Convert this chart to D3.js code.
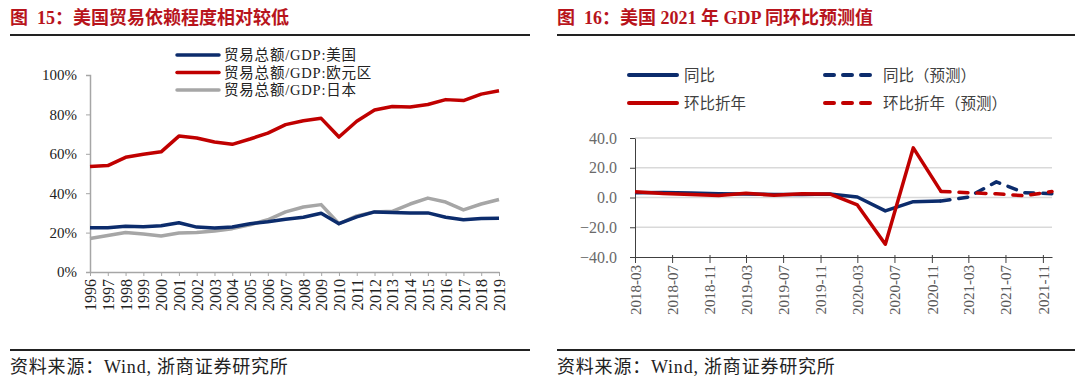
<!DOCTYPE html>
<html>
<head>
<meta charset="utf-8">
<script src="https://cdn.jsdelivr.net/npm/d3@7"></script>
<style>
  body { margin: 0; background: #fff; }
  svg { display: block; font-family: "Liberation Serif", "Noto Sans CJK SC", serif; }
</style>
</head>
<body>
<script>
// ---- data: left chart (trade / GDP) ----
var years = ["1996","1997","1998","1999","2000","2001","2002","2003","2004","2005","2006","2007",
             "2008","2009","2010","2011","2012","2013","2014","2015","2016","2017","2018","2019"];
var usTrade = [22.5,22.5,23.2,23.0,23.5,25.0,22.8,22.3,22.8,24.5,25.5,26.8,27.8,29.8,24.5,28.0,30.5,30.2,30.0,30.0,27.8,26.5,27.2,27.3];
var euTrade = [53.5,54.0,58.2,59.8,61.0,69.0,68.0,66.0,64.8,67.5,70.5,74.8,76.8,78.0,68.5,76.5,82.2,84.0,83.8,85.0,87.5,87.0,90.3,92.0];
var jpTrade = [17.0,18.5,20.0,19.3,18.3,19.8,20.0,20.8,22.0,24.0,26.5,30.5,33.0,34.2,24.5,28.5,30.5,30.8,34.5,37.5,35.5,31.5,34.5,36.8];
var leftTicks = [0,20,40,60,80,100];

// ---- data: right chart (US GDP growth) ----
var quarters = ["2018-03","2018-06","2018-09","2018-12","2019-03","2019-06","2019-09","2019-12",
                "2020-03","2020-06","2020-09","2020-12"];
var yoy = [3.2,3.3,3.1,2.5,2.3,2.0,2.1,2.3,0.3,-9.0,-2.8,-2.4];
var qoq = [3.8,2.7,2.1,1.3,2.9,1.5,2.6,2.4,-5.0,-31.4,33.4,4.1];
var fcQuarters = ["2020-12","2021-03","2021-06","2021-09","2021-12"];
var yoyFc = [-2.4,0.3,10.5,3.2,2.6];
var qoqFc = [4.1,3.2,2.5,1.2,4.0];
var rightTicks = [-40,-20,0,20,40];
var monthTicks = ["2018-03","2018-07","2018-11","2019-03","2019-07","2019-11",
                  "2020-03","2020-07","2020-11","2021-03","2021-07","2021-11"];

var navy = "#0c2c6c", red = "#c00000", grey = "#a6a6a6", titleRed = "#b8141c";

var svg = d3.select("body").append("svg")
  .attr("width", 1080).attr("height", 381);

// ---- titles, rules and source lines ----
function frame(x0, x1, title) {
  svg.append("text").text(title)
    .attr("x", x0).attr("y", 24)
    .attr("fill", titleRed).style("font-size", "18px").style("font-weight", "bold")
    .style("white-space", "pre");
  svg.append("line").attr("x1", x0).attr("x2", x1).attr("y1", 35).attr("y2", 35)
    .attr("stroke", "#222").attr("stroke-width", 2);
  svg.append("line").attr("x1", x0).attr("x2", x1).attr("y1", 350).attr("y2", 350)
    .attr("stroke", "#222").attr("stroke-width", 2);
  svg.append("text").text("资料来源：Wind, 浙商证券研究所")
    .attr("x", x0).attr("y", 373)
    .attr("fill", "#222").style("font-size", "18px").style("letter-spacing", "0.8px");
}
frame(10, 530, "图  15：美国贸易依赖程度相对较低");
frame(557, 1075, "图  16：美国 2021 年 GDP 同环比预测值");

// ---- left chart ----
var lx = d3.scalePoint().domain(years).range([90, 499]);
var ly = d3.scaleLinear().domain([0, 100]).range([272, 75]);

var lyAxis = svg.append("g").attr("transform", "translate(90,0)")
  .call(d3.axisLeft(ly).tickValues(leftTicks).tickSize(4).tickFormat(d => d + "%"));
lyAxis.select(".domain").attr("stroke", grey).attr("stroke-width", 1.5);
lyAxis.selectAll("line").attr("stroke", grey);
lyAxis.selectAll("text").attr("fill", "#222").style("font-size", "15px")
  .style("font-family", "Liberation Serif").attr("x", -13);

var lxAxis = svg.append("g").attr("transform", "translate(0,272)")
  .call(d3.axisBottom(lx).tickSize(4).tickSizeOuter(0));
lxAxis.select(".domain").attr("stroke", grey).attr("stroke-width", 1.5);
lxAxis.selectAll("line").attr("stroke", grey);
lxAxis.selectAll("text")
  .attr("fill", "#222").style("font-size", "16px").style("font-family", "Liberation Serif")
  .attr("transform", "rotate(-90)").attr("x", -7).attr("y", 0).attr("dy", "0.35em")
  .style("text-anchor", "end");

var lline = d3.line().x((d, i) => lx(years[i])).y(d => ly(d));
[[jpTrade, grey], [usTrade, navy], [euTrade, red]].forEach(function (s) {
  svg.append("path").datum(s[0]).attr("d", lline)
    .attr("fill", "none").attr("stroke", s[1]).attr("stroke-width", 3.5)
    .attr("stroke-linejoin", "round");
});

var leftLegend = [["贸易总额/GDP:美国", navy], ["贸易总额/GDP:欧元区", red], ["贸易总额/GDP:日本", grey]];
leftLegend.forEach(function (d, i) {
  var y = 55 + i * 17.5;
  svg.append("line").attr("x1", 177).attr("x2", 219).attr("y1", y).attr("y2", y)
    .attr("stroke", d[1]).attr("stroke-width", 3.5).attr("stroke-linecap", "round");
  svg.append("text").text(d[0]).attr("x", 224).attr("y", y + 5)
    .attr("fill", "#222").style("font-size", "14.5px").style("letter-spacing", "0.8px");
});

// ---- right chart ----
var parse = d3.timeParse("%Y-%m");
var rx = d3.scaleTime().domain([parse("2018-03"), parse("2021-12")]).range([635, 1052]);
var ry = d3.scaleLinear().domain([-40, 40]).range([257, 138]);

svg.append("g").selectAll("line").data(rightTicks.filter(d => d > -40)).enter().append("line")
  .attr("x1", 635).attr("x2", 1052).attr("y1", d => ry(d)).attr("y2", d => ry(d))
  .attr("stroke", "#d9d9d9").attr("stroke-width", 1.5);

var ryAxis = svg.append("g").attr("transform", "translate(635,0)")
  .call(d3.axisLeft(ry).tickValues(rightTicks).tickSize(5).tickSizeOuter(0).tickFormat(d3.format(".1f")));
ryAxis.select(".domain").attr("stroke", "#404040");
ryAxis.selectAll("line").attr("stroke", "#404040");
ryAxis.selectAll("text").attr("fill", "#6a6a6a").style("font-size", "16px")
  .style("font-family", "Liberation Serif").attr("x", -18);

var rxAxis = svg.append("g").attr("transform", "translate(0,257)")
  .call(d3.axisBottom(rx).tickValues(monthTicks.map(parse)).tickSize(6).tickSizeOuter(0)
    .tickFormat(d3.timeFormat("%Y-%m")));
rxAxis.select(".domain").attr("stroke", "#404040");
rxAxis.selectAll("line").attr("stroke", "#404040").attr("y1", -2);
rxAxis.selectAll("text")
  .attr("fill", "#595959").style("font-size", "15px").style("font-family", "Liberation Serif")
  .attr("transform", "rotate(-90)").attr("x", -8).attr("y", 0).attr("dy", "0.35em")
  .style("text-anchor", "end");

function rline(dates) {
  return d3.line().x((d, i) => rx(parse(dates[i]))).y(d => ry(d));
}
function drawR(vals, dates, color, dashed) {
  svg.append("path").datum(vals).attr("d", rline(dates))
    .attr("fill", "none").attr("stroke", color).attr("stroke-width", 3.5)
    .attr("stroke-linejoin", "round")
    .attr("stroke-linecap", dashed ? "round" : "butt")
    .attr("stroke-dasharray", dashed ? "9,9" : null);
}
drawR(yoy, quarters, navy, false);
drawR(qoq, quarters, red, false);
drawR(yoyFc, fcQuarters, navy, true);
drawR(qoqFc, fcQuarters, red, true);

var rightLegend = [
  ["同比", navy, false, 627, 75], ["同比（预测）", navy, true, 823, 75],
  ["环比折年", red, false, 627, 103], ["环比折年（预测）", red, true, 823, 103]
];
rightLegend.forEach(function (d) {
  svg.append("line").attr("x1", d[3] + 2).attr("x2", d[3] + 50).attr("y1", d[4]).attr("y2", d[4])
    .attr("stroke", d[1]).attr("stroke-width", 4).attr("stroke-linecap", "round")
    .attr("stroke-dasharray", d[2] ? "9,9" : null);
  svg.append("text").text(d[0]).attr("x", d[3] + (d[2] ? 60 : 57)).attr("y", d[4] + 6)
    .attr("fill", "#404040").style("font-size", "15.5px");
});
</script>
</body>
</html>
